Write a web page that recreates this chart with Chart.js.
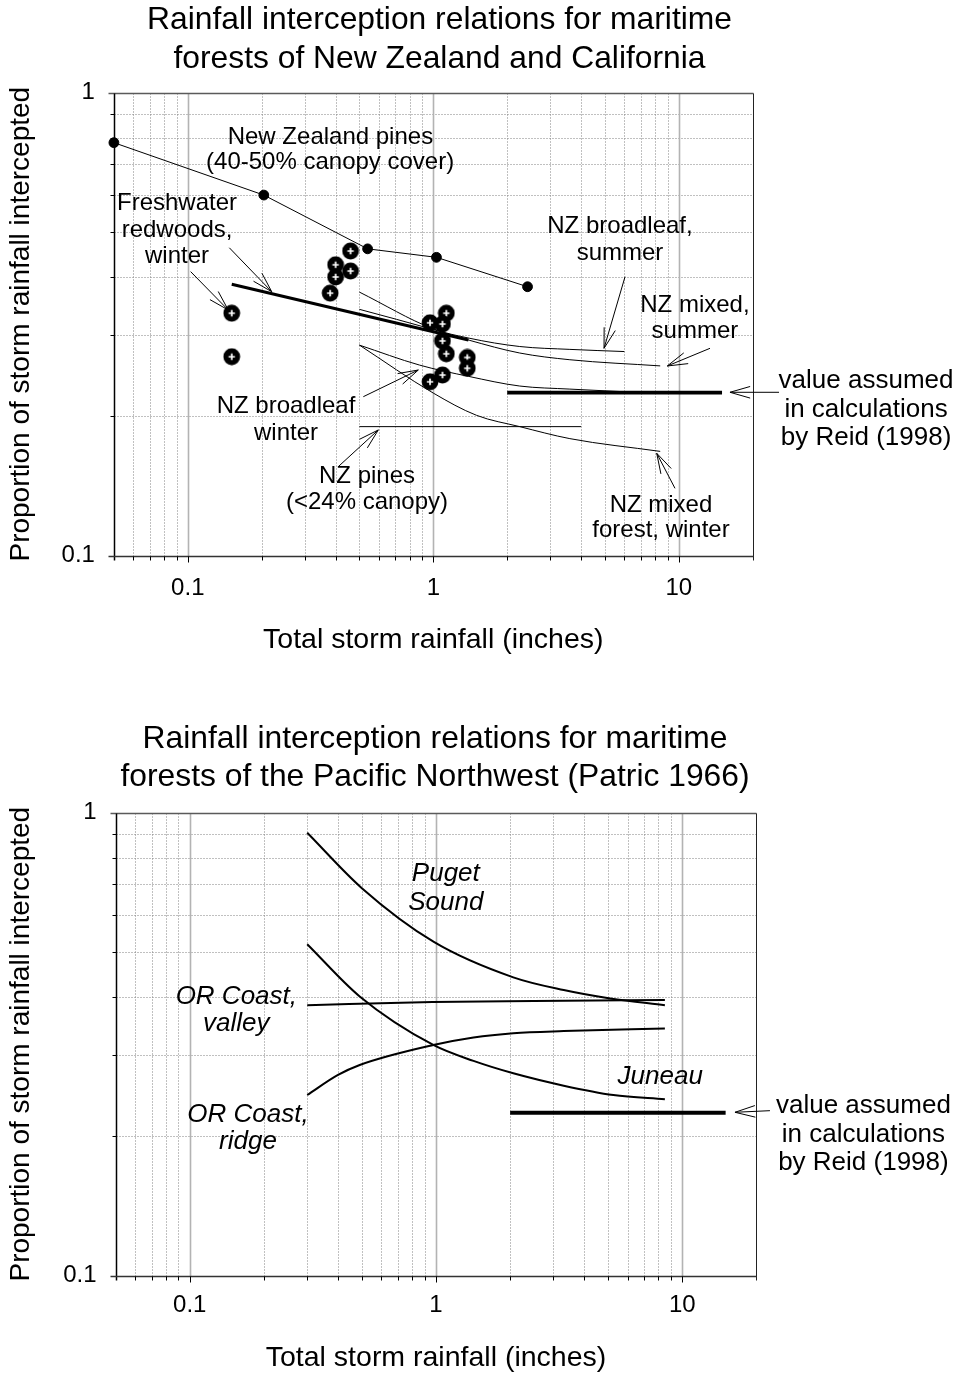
<!DOCTYPE html>
<html><head><meta charset="utf-8">
<script src="https://cdn.jsdelivr.net/npm/chart.js@4.4.1/dist/chart.umd.min.js"></script>
<style>
html,body{margin:0;padding:0;background:#fff;}
canvas{display:block;}
</style></head>
<body>
<canvas id="c1" width="961" height="688"></canvas>
<canvas id="c2" width="961" height="688"></canvas>
<script>
// ---------------- DATA (top chart) ----------------
const nzPines4050X = [0.05, 0.204, 0.54, 1.03, 2.42];
const nzPines4050Y = [0.78, 0.601, 0.46, 0.441, 0.381];

const redwoodX = [0.151, 0.151, 0.38, 0.40, 0.40, 0.46, 0.46, 0.97, 1.13, 1.09, 1.09, 1.13, 1.375, 1.375, 1.09, 0.97];
const redwoodY = [0.334, 0.269, 0.369, 0.425, 0.400, 0.455, 0.412, 0.3185, 0.334, 0.3165, 0.291, 0.273, 0.268, 0.254, 0.2456, 0.2375];

const redwoodFitX = [0.151, 1.39];
const redwoodFitY = [0.3856, 0.2924];

const broadleafSummerX = [0.5, 1.0, 1.4, 2.25, 3.6, 6.0];
const broadleafSummerY = [0.371, 0.309, 0.295, 0.283, 0.279, 0.276];

const mixedSummerX = [0.5, 1.0, 1.4, 2.25, 3.6, 8.4];
const mixedSummerY = [0.3405, 0.308, 0.292, 0.274, 0.265, 0.257];

const broadleafWinterX = [0.5, 0.88, 1.39, 2.25, 3.6, 6.0];
const broadleafWinterY = [0.285, 0.258, 0.244, 0.2325, 0.229, 0.226];

const mixedWinterX = [0.5, 1.0, 1.5, 2.25, 3.6, 8.4];
const mixedWinterY = [0.285, 0.2245, 0.201, 0.190, 0.179, 0.168];

const nzPinesSparseX = [0.5, 4.0];
const nzPinesSparseY = [0.19, 0.19];

const reidX = [2, 15];
const reidY = [0.225, 0.225];

// ---------------- DATA (bottom chart) ----------------
const pugetX = [0.3, 0.5, 0.98, 2.06, 3.3, 5.1, 8.5];
const pugetY = [0.905, 0.687, 0.526, 0.441, 0.414, 0.397, 0.384];

const valleyX = [0.3, 0.97, 2.5, 8.5];
const valleyY = [0.384, 0.390, 0.392, 0.394];

const ridgeX = [0.3, 0.4, 0.49, 0.975, 1.42, 2.06, 3.3, 8.5];
const ridgeY = [0.2456, 0.2714, 0.2852, 0.315, 0.327, 0.334, 0.3376, 0.342];

const juneauX = [0.3, 0.49, 0.975, 1.42, 2.06, 3.3, 5.25, 8.5];
const juneauY = [0.52, 0.401, 0.315, 0.291, 0.2736, 0.2573, 0.2456, 0.2404];

const reid2X = [2, 15];
const reid2Y = [0.225, 0.225];

// ---------------- AXES ----------------
const xTickLabels = [0.1, 1, 10];
const yTickLabels = [0.1, 1];
const xMinor = [0.06, 0.07, 0.08, 0.09, 0.2, 0.3, 0.4, 0.5, 0.6, 0.7, 0.8, 0.9, 2, 3, 4, 5, 6, 7, 8, 9];
const yMinor = [0.2, 0.3, 0.4, 0.5, 0.6, 0.7, 0.8, 0.9];
const xMajor = [0.1, 1, 10];

// ---------------- TEXT ----------------
const topTitle = ["Rainfall interception relations for maritime", "forests of New Zealand and California"];
const bottomTitle = ["Rainfall interception relations for maritime", "forests of the Pacific Northwest (Patric 1966)"];
const xAxisTitle = "Total storm rainfall (inches)";
const yAxisTitle = "Proportion of storm rainfall intercepted";

const topLabelText = ["New Zealand pines", "(40-50% canopy cover)", "Freshwater", "redwoods,", "winter",
  "NZ broadleaf,", "summer", "NZ mixed,", "summer", "value assumed", "in calculations", "by Reid (1998)",
  "NZ broadleaf", "winter", "NZ pines", "(<24% canopy)", "NZ mixed", "forest, winter"];
const topLabelX = [0.381, 0.38, 0.0904, 0.0904, 0.0904, 5.76, 5.76, 11.63, 11.63, 57.9, 57.9, 57.9,
  0.2512, 0.2512, 0.537, 0.537, 8.46, 8.46];
const topLabelY = [0.7766, 0.6826, 0.558, 0.4891, 0.4287, 0.4965, 0.4351, 0.3365, 0.2947, 0.2299, 0.1998, 0.1734,
  0.2031, 0.1778, 0.1438, 0.126, 0.1245, 0.1099];
const topLabelSize = [24, 24, 24, 24, 24, 24, 24, 24, 24, 26, 26, 26, 24, 24, 24, 24, 24, 24];

const topArrowTailX = [0.1027, 0.1476, 6.04, 13.4, 25.6, 0.5187, 0.410, 9.65];
const topArrowTailY = [0.4107, 0.4625, 0.4005, 0.2805, 0.2254, 0.2205, 0.1557, 0.1398];
const topArrowTipX = [0.1461, 0.2197, 4.96, 8.98, 16.16, 0.8687, 0.597, 8.13];
const topArrowTipY = [0.3394, 0.3717, 0.2805, 0.2569, 0.2254, 0.2518, 0.1869, 0.1664];

const bottomLabelText = ["Puget", "Sound", "OR Coast,", "valley", "OR Coast,", "ridge", "Juneau",
  "value assumed", "in calculations", "by Reid (1998)"];
const bottomLabelX = [1.096, 1.096, 0.1546, 0.1546, 0.1724, 0.1724, 8.14, 54.4, 54.4, 54.4];
const bottomLabelY = [0.712, 0.6166, 0.3862, 0.3377, 0.2148, 0.1877, 0.2591, 0.2243, 0.1948, 0.1692];
const bottomLabelItalic = [true, true, true, true, true, true, true, false, false, false];

const bottomArrowTailX = [22.7];
const bottomArrowTailY = [0.2272];
const bottomArrowTipX = [16.37];
const bottomArrowTipY = [0.2254];

// ---------------- RENDERING ----------------
const FONT = '"Liberation Sans", Arial, Helvetica, sans-serif';
Chart.defaults.font.family = FONT;
Chart.defaults.color = '#000';

function pts(xs, ys) { return xs.map((x, i) => ({x: x, y: ys[i]})); }

function makeMarker() {
  const c = document.createElement('canvas');
  c.width = 18; c.height = 18;
  const g = c.getContext('2d');
  g.fillStyle = '#000';
  g.beginPath(); g.arc(9, 9, 8.4, 0, Math.PI * 2); g.fill();
  g.strokeStyle = '#fff'; g.lineWidth = 1.7;
  g.beginPath(); g.moveTo(9, 5.8); g.lineTo(9, 12.2); g.moveTo(5.8, 9); g.lineTo(12.2, 9); g.stroke();
  return c;
}
const marker = makeMarker();

function gridPlugin() {
  return {
    id: 'logGrid',
    beforeDatasetsDraw(chart) {
      const ctx = chart.ctx, xs = chart.scales.x, ys = chart.scales.y, a = chart.chartArea;
      const L = Math.round(a.left) + 0.5, R = Math.round(a.right) + 0.5, T = Math.round(a.top) + 0.5, B = Math.round(a.bottom) + 0.5;
      ctx.save();
      // minor dotted grid
      ctx.strokeStyle = '#808080'; ctx.lineWidth = 1; ctx.setLineDash([1, 2]);
      ctx.beginPath();
      xMinor.forEach(v => { const p = Math.round(xs.getPixelForValue(v)) + 0.5; ctx.moveTo(p, T); ctx.lineTo(p, B); });
      yMinor.forEach(v => { const p = Math.round(ys.getPixelForValue(v)) + 0.5; ctx.moveTo(L, p); ctx.lineTo(R, p); });
      ctx.stroke();
      // major solid grid
      ctx.setLineDash([]);
      ctx.strokeStyle = '#b3b3b3'; ctx.lineWidth = 1.6;
      ctx.beginPath();
      xMajor.forEach(v => { const p = Math.round(xs.getPixelForValue(v)) + 0.5; ctx.moveTo(p, T); ctx.lineTo(p, B); });
      ctx.stroke();
      // frame: top and right
      ctx.strokeStyle = '#5a5a5a'; ctx.lineWidth = 1.5;
      ctx.beginPath(); ctx.moveTo(L - 6, T); ctx.lineTo(R, T); ctx.stroke();
      ctx.strokeStyle = '#222'; ctx.lineWidth = 1;
      ctx.beginPath(); ctx.moveTo(R, T); ctx.lineTo(R, B + 4); ctx.stroke();
      // axes
      ctx.strokeStyle = '#000'; ctx.lineWidth = 1.5;
      ctx.beginPath(); ctx.moveTo(L, T); ctx.lineTo(L, B + 4); ctx.stroke();
      ctx.strokeStyle = '#333'; ctx.lineWidth = 1.6;
      ctx.beginPath(); ctx.moveTo(L - 6, B); ctx.lineTo(R, B); ctx.stroke();
      // tick marks
      ctx.strokeStyle = '#000'; ctx.lineWidth = 1;
      ctx.beginPath();
      xMinor.forEach(v => { const p = Math.round(xs.getPixelForValue(v)) + 0.5; ctx.moveTo(p, B); ctx.lineTo(p, B + 4); });
      xMajor.forEach(v => { const p = Math.round(xs.getPixelForValue(v)) + 0.5; ctx.moveTo(p, B); ctx.lineTo(p, B + 6); });
      yMinor.forEach(v => { const p = Math.round(ys.getPixelForValue(v)) + 0.5; ctx.moveTo(L - 4, p); ctx.lineTo(L, p); });
      ctx.stroke();
      ctx.restore();
    }
  };
}

function drawArrow(ctx, x0, y0, x1, y1) {
  const ang = Math.atan2(y1 - y0, x1 - x0);
  const hl = 21, ha = 0.28;
  ctx.beginPath();
  ctx.moveTo(x0, y0); ctx.lineTo(x1, y1);
  ctx.moveTo(x1, y1); ctx.lineTo(x1 - hl * Math.cos(ang - ha), y1 - hl * Math.sin(ang - ha));
  ctx.moveTo(x1, y1); ctx.lineTo(x1 - hl * Math.cos(ang + ha), y1 - hl * Math.sin(ang + ha));
  ctx.stroke();
}

function annotPlugin(spec) {
  return {
    id: 'annot',
    afterDatasetsDraw(chart) {
      const ctx = chart.ctx, xs = chart.scales.x, ys = chart.scales.y;
      ctx.save();
      ctx.fillStyle = '#000';
      ctx.textAlign = 'center';
      ctx.textBaseline = 'alphabetic';
      // title
      ctx.font = '31.8px ' + FONT;
      spec.title.forEach((t, i) => ctx.fillText(t, spec.titleX, spec.titleY[i]));
      // labels
      spec.text.forEach((t, i) => {
        const sz = spec.size ? spec.size[i] : 26;
        ctx.font = (spec.italic && spec.italic[i] ? 'italic ' : '') + sz + 'px ' + FONT;
        ctx.fillText(t, xs.getPixelForValue(spec.lx[i]), ys.getPixelForValue(spec.ly[i]));
      });
      // arrows
      ctx.strokeStyle = '#000'; ctx.lineWidth = 1;
      spec.tx.forEach((v, i) => {
        drawArrow(ctx, xs.getPixelForValue(spec.tx[i]), ys.getPixelForValue(spec.ty[i]),
          xs.getPixelForValue(spec.hx[i]), ys.getPixelForValue(spec.hy[i]));
      });
      ctx.restore();
    }
  };
}

function lineDs(xs, ys, w, smooth) {
  return {data: pts(xs, ys), showLine: true, borderColor: '#000', borderWidth: w, pointRadius: 0,
    cubicInterpolationMode: smooth ? 'monotone' : 'default', fill: false};
}

function makeChart(id, datasets, L, spec) {
  return new Chart(document.getElementById(id), {
    type: 'scatter',
    data: {datasets: datasets},
    options: {
      responsive: false, animation: false, devicePixelRatio: 1,
      layout: {padding: {left: 0, top: L.top, right: L.right, bottom: 0}},
      plugins: {legend: {display: false}, tooltip: {enabled: false}, title: {display: false}},
      scales: {
        x: {
          type: 'logarithmic', min: 0.05, max: 20, position: 'bottom',
          grid: {display: false, drawTicks: false}, border: {display: false},
          afterBuildTicks: s => { s.ticks = xTickLabels.map(v => ({value: v})); },
          afterFit: s => { s.height = L.xh; },
          ticks: {callback: v => String(v), font: {size: 24, lineHeight: 1.2}, color: '#000',
            padding: L.xtp, maxRotation: 0, autoSkip: false},
          title: {display: true, text: xAxisTitle, font: {size: 28.5, lineHeight: 1.2}, color: '#000',
            padding: {top: L.xtt, bottom: L.xtt}}
        },
        y: {
          type: 'logarithmic', min: 0.1, max: 1, position: 'left',
          grid: {display: false, drawTicks: false}, border: {display: false},
          afterBuildTicks: s => { s.ticks = yTickLabels.map(v => ({value: v})); },
          afterFit: s => { s.width = L.yw; },
          ticks: {callback: v => String(v), font: {size: 24, lineHeight: 1.2}, color: '#000',
            padding: 19, autoSkip: false},
          title: {display: true, text: yAxisTitle, font: {size: 28, lineHeight: 1.2}, color: '#000',
            padding: {top: 4.5, bottom: 4.5}}
        }
      }
    },
    plugins: [gridPlugin(), annotPlugin(spec)]
  });
}

// Top chart
const topDatasets = [
  {data: pts(redwoodX, redwoodY), showLine: false, pointStyle: marker, pointRadius: 9},
  {data: pts(nzPines4050X, nzPines4050Y), showLine: true, borderColor: '#000', borderWidth: 1,
    pointRadius: 4.9, pointBackgroundColor: '#000', pointBorderColor: '#000', clip: false},
  lineDs(redwoodFitX, redwoodFitY, 3, false),
  lineDs(broadleafSummerX, broadleafSummerY, 1, true),
  lineDs(mixedSummerX, mixedSummerY, 1, true),
  lineDs(broadleafWinterX, broadleafWinterY, 1, true),
  lineDs(mixedWinterX, mixedWinterY, 1, true),
  lineDs(nzPinesSparseX, nzPinesSparseY, 1, false),
  lineDs(reidX, reidY, 3.6, false)
];
makeChart('c1', topDatasets,
  {top: 92.7, right: 208.3, yw: 113.9, xh: 132.3, xtp: 18, xtt: 30.9},
  {title: topTitle, titleX: 439.5, titleY: [29.4, 68.4],
   text: topLabelText, lx: topLabelX, ly: topLabelY, size: topLabelSize,
   tx: topArrowTailX, ty: topArrowTailY, hx: topArrowTipX, hy: topArrowTipY});

// Bottom chart
const bottomDatasets = [
  lineDs(pugetX, pugetY, 2, true),
  lineDs(valleyX, valleyY, 2, true),
  lineDs(ridgeX, ridgeY, 2, true),
  lineDs(juneauX, juneauY, 2, true),
  lineDs(reid2X, reid2Y, 4, false)
];
makeChart('c2', bottomDatasets,
  {top: 124.7, right: 204.6, yw: 115.6, xh: 100.3, xtp: 15, xtt: 0.9},
  {title: bottomTitle, titleX: 435, titleY: [60.4, 98.4],
   text: bottomLabelText, lx: bottomLabelX, ly: bottomLabelY, size: [26, 26, 26, 26, 26, 26, 26, 26, 26, 26],
   italic: bottomLabelItalic,
   tx: bottomArrowTailX, ty: bottomArrowTailY, hx: bottomArrowTipX, hy: bottomArrowTipY});
</script>
</body></html>
